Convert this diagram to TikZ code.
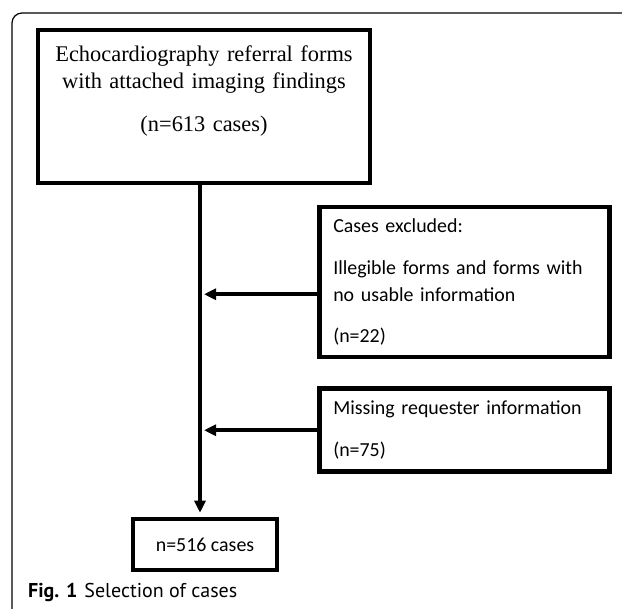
\documentclass[tikz,border=0pt]{standalone}
\usepackage{fontspec}
\setmainfont{Liberation Serif}
\newfontfamily\boxfont{Carlito}
\newfontfamily\capfont{PT Sans}
\usetikzlibrary{arrows.meta,positioning}

\begin{document}
\begin{tikzpicture}[
    x=1pt, y=-1pt,
    source/.style={draw, line width=4.5pt, align=center, text width=320pt, minimum width=332pt, minimum height=153pt, inner sep=0pt, font=\fontsize{22.4}{27}\selectfont},
    excluded/.style={draw, line width=4.5pt, anchor=north west, text width=262pt, inner xsep=14pt, inner ysep=0pt, font=\boxfont\fontsize{19.9}{27}\selectfont},
    result/.style={draw, line width=4.5pt, minimum width=144pt, minimum height=51pt, inner sep=0pt, font=\boxfont\fontsize{19.9}{24}\selectfont},
    flow/.style={-{Triangle[length=12pt,width=11pt]}, line width=4pt, shorten >=4pt}
]
\useasboundingbox (0,0) rectangle (622,609);
% outer frame
\draw[line width=1.2pt, rounded corners=10pt] (12,609) -- (12,13) -- (622,13);

\node[source] (forms) at (204,106.5) {Echocardiography referral forms\\ with attached imaging findings\\[16pt] (n=613 cases)\\[9pt]\mbox{}};
\node[excluded, minimum height=150pt] (illegible) at (317,205) {Cases excluded:\\[15pt] Illegible forms and forms with no usable information\\[14pt] (n=22)};
\node[excluded, minimum height=83pt, below=27pt of illegible.south west, anchor=north west] (missing) {Missing requester information\\[15pt] (n=75)};
\node[result] (final) at (205,544.5) {n=516 cases};
\node[anchor=west, inner sep=0pt, font=\capfont\fontsize{20}{22}\selectfont] (caption) at (28,593) {\textbf{Fig. 1}\hspace{7pt}Selection of cases};

\coordinate (trunk) at (200,0);
\coordinate (tap1) at ([yshift=-12pt]illegible.west);
\draw[flow] (forms.south -| trunk) -- (trunk |- final.north);
\draw[flow] (tap1) -- (tap1 -| trunk);
\draw[flow] (missing.west) -- (missing.west -| trunk);
\end{tikzpicture}
\end{document}
